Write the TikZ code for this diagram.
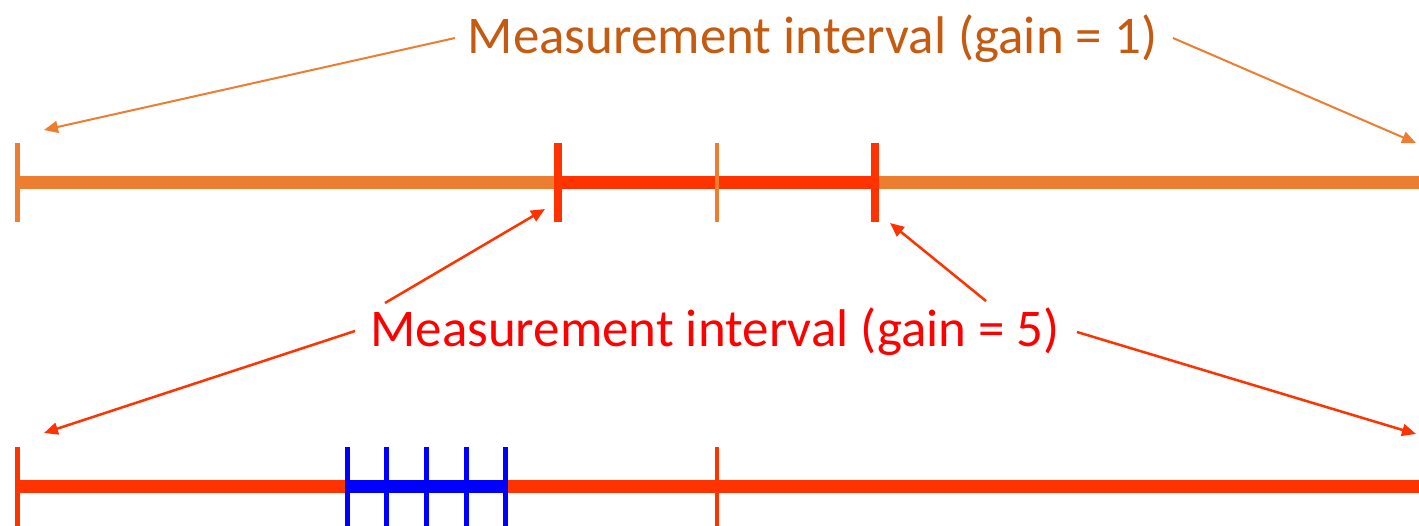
\documentclass[tikz,border=0pt]{standalone}
\usepackage{fontspec}
\setmainfont{Carlito}
\usetikzlibrary{arrows.meta}
\definecolor{lineorange}{HTML}{ED7D31}
\definecolor{textorange}{HTML}{C55A11}
\definecolor{segred}{HTML}{FF3300}
\definecolor{textred}{HTML}{FF0000}
\definecolor{segblue}{HTML}{0000FF}
\tikzset{
  label text/.style={font=\fontsize{53}{60}\selectfont, inner sep=0pt, anchor=base},
  bar/.style={line width=13pt},
  tickmark/.style={line width=#1},
  pointer/.style={-{Triangle[length=14pt,width=12pt]}},
}
\begin{document}
\begin{tikzpicture}[x=1pt,y=-1pt]
\useasboundingbox (0,0) rectangle (1419,525);
% texts
\node[label text, text=textorange] (t1) at (812.5,53) {Measurement interval (gain = 1)};
\node[label text, text=textred] (t5) at (715,346) {Measurement interval (gain = 5)};
% top line coordinates
\coordinate (a0) at (17,182.5);
\coordinate (a1) at (558,182.5);
\coordinate (am) at (717,182.5);
\coordinate (a2) at (875,182.5);
\coordinate (a3) at (1419,182.5);
% bottom line coordinates
\coordinate (b0) at (17,486.5);
\coordinate (bm) at (717,486.5);
\coordinate (b3) at (1419,486.5);
\coordinate (c0) at (347.5,486.5);
\coordinate (c1) at (386.5,486.5);
\coordinate (c2) at (426.5,486.5);
\coordinate (c3) at (466.5,486.5);
\coordinate (c4) at (505.5,486.5);
% top line
\draw[bar, lineorange] (a0) -- (a3);
\draw[bar, segred] (a1) -- (a2);
\draw[tickmark=5pt, lineorange] ([yshift=-39.5pt]a0) -- ([yshift=39.5pt]a0);
\draw[tickmark=8pt, segred] ([yshift=-39.5pt]a1) -- ([yshift=39.5pt]a1);
\draw[tickmark=8pt, segred] ([yshift=-39.5pt]a2) -- ([yshift=39.5pt]a2);
\draw[tickmark=4pt, lineorange] ([yshift=-39.5pt]am) -- ([yshift=39.5pt]am);
% bottom line
\draw[bar, segred] (b0) -- (b3);
\draw[bar, segblue] (c0) -- (c4);
\draw[tickmark=5pt, segred] ([yshift=-39.5pt]b0) -- ([yshift=39.5pt]b0);
\draw[tickmark=4pt, segred] ([yshift=-39.5pt]bm) -- ([yshift=39.5pt]bm);
\foreach \c in {c0,c1,c2,c3,c4}
  \draw[tickmark=5pt, segblue] ([yshift=-39.5pt]\c) -- ([yshift=39.5pt]\c);
% arrow ends
\coordinate (p1) at (44,130);
\coordinate (p2) at (1416,143);
\coordinate (p3) at (545,209);
\coordinate (p4) at (890,223);
\coordinate (p5) at (44,433);
\coordinate (p6) at (1416,434);
% arrow starts
\coordinate (s1) at (455,38);
\coordinate (s2) at (1173,38);
\coordinate (s3) at (385,303);
\coordinate (s4) at (986,301);
\coordinate (s5) at (355,331);
\coordinate (s6) at (1077,332);
% arrows
\draw[pointer, lineorange, line width=2pt] (s1) -- (p1);
\draw[pointer, lineorange, line width=2pt] (s2) -- (p2);
\draw[pointer, segred, line width=2.5pt] (s3) -- (p3);
\draw[pointer, segred, line width=2.5pt] (s4) -- (p4);
\draw[pointer, segred, line width=2.5pt] (s5) -- (p5);
\draw[pointer, segred, line width=2.5pt] (s6) -- (p6);
\end{tikzpicture}
\end{document}
